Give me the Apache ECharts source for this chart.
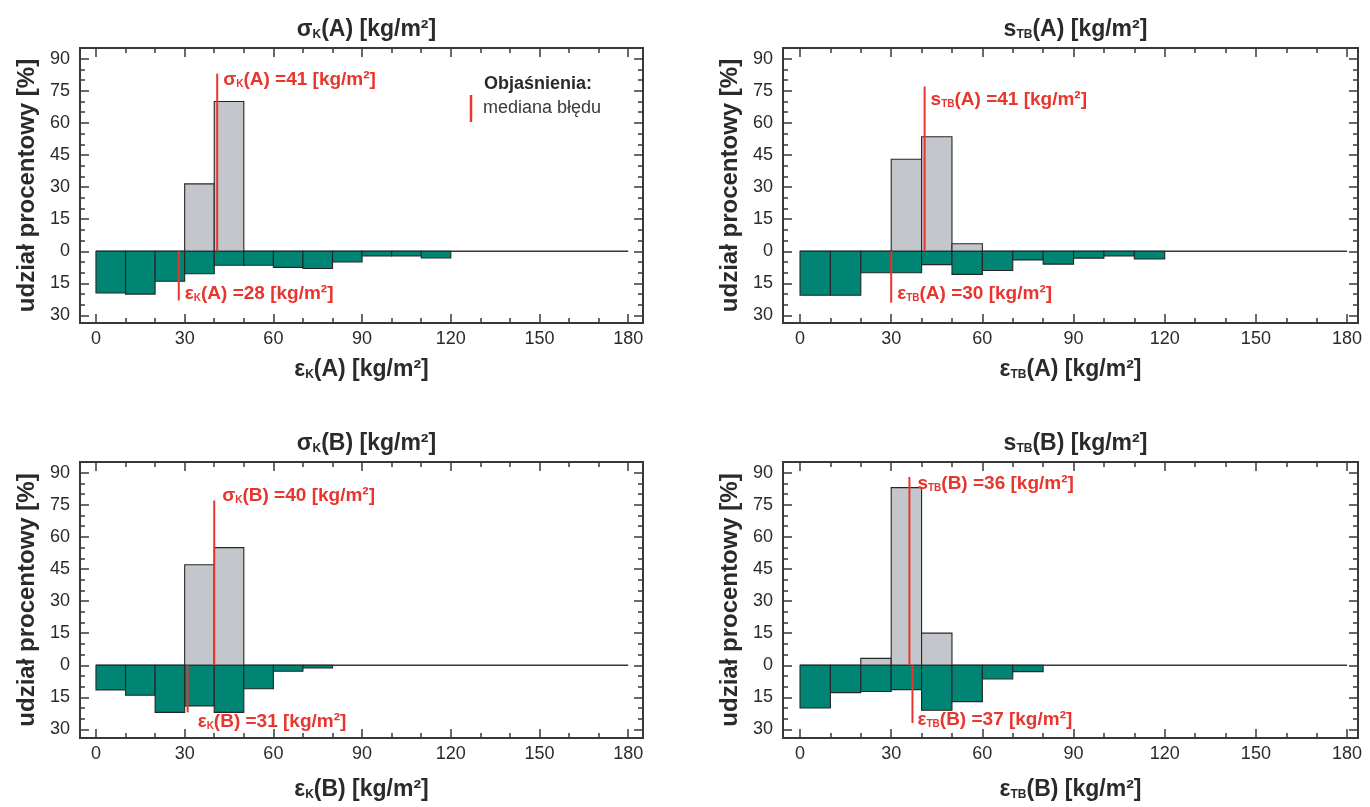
<!DOCTYPE html>
<html>
<head>
<meta charset="utf-8">
<script src="https://cdn.jsdelivr.net/npm/echarts@6/dist/echarts.min.js"></script>
<style>
html,body{margin:0;padding:0;background:#fff;}
#chart{width:1370px;height:807px;}
</style>
</head>
<body>
<div id="chart"></div>
<script>
// ---------------- DATA ----------------
const xTickValues = [0, 30, 60, 90, 120, 150, 180];
const xMinorTicks = [10, 20, 40, 50, 70, 80, 100, 110, 130, 140, 160, 170];
const yTickValues = [-30, -15, 0, 15, 30, 45, 60, 75, 90];
const yMinorTicks = [-25, -20, -10, -5, 5, 10, 20, 25, 35, 40, 50, 55, 65, 70, 80, 85];
const binEdges = [0, 10, 20, 30, 40, 50, 60, 70, 80, 90, 100, 110];
const binWidth = 10;

// upper (grey) histograms: sigma / s distributions [%]
const sigmaK_A = [0, 0, 0, 31.5, 70];
const sTB_A    = [0, 0, 0, 43, 53.5, 3.5];
const sigmaK_B = [0, 0, 0, 47, 55];
const sTB_B    = [0, 0, 3.2, 83, 15];

// lower (teal) histograms: epsilon distributions [%] (drawn downward)
const epsK_A  = [19.5, 20, 14, 10.5, 6.5, 6.5, 7.5, 8, 5, 2.2, 2.2, 3.1];
const epsTB_A = [20.5, 20.5, 10, 10, 6.2, 10.8, 9, 4, 6, 3.2, 2.2, 3.6];
const epsK_B  = [11.5, 14, 22, 19, 22, 11, 2.8, 1.3];
const epsTB_B = [20, 12.8, 12.3, 11.4, 21, 17, 6.4, 3];

// medians of the error [kg/m2]
const medianUpper = [41, 41, 40, 36];
const medianLower = [28, 30, 31, 37];
// extent of the median markers [%]
const medianUpperTop = [83, 77, 77, 88];
const medianLowerBottom = [23, 24, 22, 27];

// symbol texts
const upperSym = [['σ', 'K', 'A'], ['s', 'TB', 'A'], ['σ', 'K', 'B'], ['s', 'TB', 'B']];
const lowerSym = [['ε', 'K', 'A'], ['ε', 'TB', 'A'], ['ε', 'K', 'B'], ['ε', 'TB', 'B']];
const upperData = [sigmaK_A, sTB_A, sigmaK_B, sTB_B];
const lowerData = [epsK_A, epsTB_A, epsK_B, epsTB_B];

// ---------------- LAYOUT ----------------
const FONT = "'Liberation Sans', Arial, Helvetica, sans-serif";
const INK = '#2a2a2a';
const FRAME = '#383838';
const RED = '#e8352d';
const GREY = '#c3c6ca';
const TEAL = '#008474';

const panels = [
  {left: 80,  top: 48,  width: 563, height: 275, xMin: -5.4, xMax: 185,   yMin: -33.5, yMax: 95, xNameGap: 35, upLabelY: 80, upDx: 6, loLabelY: -20, loDx: 6},
  {left: 783, top: 48,  width: 575, height: 275, xMin: -5.6, xMax: 183.6, yMin: -33.5, yMax: 95, xNameGap: 35, upLabelY: 71, upDx: 6, loLabelY: -20, loDx: 6},
  {left: 80,  top: 462, width: 563, height: 276, xMin: -5.4, xMax: 185,   yMin: -34,   yMax: 95, xNameGap: 40, upLabelY: 79, upDx: 8, loLabelY: -26.5, loDx: 10},
  {left: 783, top: 462, width: 575, height: 276, xMin: -5.6, xMax: 183.6, yMin: -34,   yMax: 95, xNameGap: 40, upLabelY: 85, upDx: 8, loLabelY: -25.5, loDx: 5}
];

function richBase(size, subSize, color, weight) {
  return {
    n: {fontSize: size, fontWeight: weight, color: color, fontFamily: FONT},
    s: {fontSize: subSize, fontWeight: weight, color: color, fontFamily: FONT, verticalAlign: 'bottom'}
  };
}
function richZr(size, subSize, color, weight) {
  return {
    n: {fontSize: size, fontWeight: weight, fill: color, fontFamily: FONT},
    s: {fontSize: subSize, fontWeight: weight, fill: color, fontFamily: FONT, verticalAlign: 'bottom'}
  };
}
function symText(sym, tail) {
  return '{n|' + sym[0] + '}{s|' + sym[1] + '}{n|(' + sym[2] + ')' + tail + '}';
}

const tickLine = {color: FRAME, width: 1.5};
const frameLine = {color: FRAME, width: 1.8};

const option = {
  backgroundColor: '#fff',
  animation: false,
  title: [],
  grid: [],
  xAxis: [],
  yAxis: [],
  series: [],
  graphic: [
    {type: 'text', x: 538, y: 84, style: {text: 'Objaśnienia:', fill: '#2a2a2a', font: 'bold 18px ' + FONT, align: 'center', verticalAlign: 'middle'}},
    {type: 'text', x: 483, y: 108, style: {text: 'mediana błędu', fill: '#3a3a3a', font: '18px ' + FONT, align: 'left', verticalAlign: 'middle'}},
    {type: 'line', shape: {x1: 471, y1: 95, x2: 471, y2: 122}, style: {stroke: RED, lineWidth: 2.5}}
  ]
};

panels.forEach(function (p, gi) {
  option.grid.push({left: p.left, top: p.top, width: p.width, height: p.height, containLabel: false});
  option.title.push({
    text: symText(upperSym[gi], ' [kg/m²]'),
    left: p.left + p.width / 2, top: p.top - 35, textAlign: 'center',
    textStyle: {rich: richBase(23, 12, INK, 'bold')}
  });

  const xBase = {gridIndex: gi, type: 'value', min: p.xMin, max: p.xMax, splitLine: {show: false}, axisPointer: {show: false}};
  // bottom major (with labels and name)
  option.xAxis.push(Object.assign({}, xBase, {
    position: 'bottom',
    axisLine: {show: true, onZero: false, lineStyle: frameLine},
    axisTick: {show: true, inside: true, length: 9, customValues: xTickValues, lineStyle: tickLine},
    axisLabel: {show: true, customValues: xTickValues, fontSize: 18, color: INK, fontFamily: FONT, margin: 7},
    name: symText(lowerSym[gi], ' [kg/m²]'), nameLocation: 'middle', nameGap: p.xNameGap,
    nameTextStyle: {rich: richBase(23, 12, INK, 'bold')}
  }));
  // bottom minor
  option.xAxis.push(Object.assign({}, xBase, {
    position: 'bottom', offset: 0,
    axisLine: {show: true, onZero: false, lineStyle: frameLine},
    axisTick: {show: true, inside: true, length: 5, customValues: xMinorTicks, lineStyle: tickLine},
    axisLabel: {show: false}
  }));
  // top major
  option.xAxis.push(Object.assign({}, xBase, {
    position: 'top', offset: 0,
    axisLine: {show: true, onZero: false, lineStyle: frameLine},
    axisTick: {show: true, inside: true, length: 9, customValues: xTickValues, lineStyle: tickLine},
    axisLabel: {show: false}
  }));
  // top minor
  option.xAxis.push(Object.assign({}, xBase, {
    position: 'top', offset: 0,
    axisLine: {show: true, onZero: false, lineStyle: frameLine},
    axisTick: {show: true, inside: true, length: 5, customValues: xMinorTicks, lineStyle: tickLine},
    axisLabel: {show: false}
  }));

  const yBase = {gridIndex: gi, type: 'value', min: p.yMin, max: p.yMax, splitLine: {show: false}, axisPointer: {show: false}};
  option.yAxis.push(Object.assign({}, yBase, {
    position: 'left',
    axisLine: {show: true, onZero: false, lineStyle: frameLine},
    axisTick: {show: true, inside: true, length: 9, customValues: yTickValues, lineStyle: tickLine},
    axisLabel: {show: true, customValues: yTickValues, fontSize: 18, color: INK, fontFamily: FONT, margin: 10,
      formatter: function (v) { return String(Math.abs(v)); }},
    name: 'udział procentowy [%]', nameLocation: 'middle', nameGap: 41,
    nameTextStyle: {fontSize: 24, fontWeight: 'bold', color: INK, fontFamily: FONT}
  }));
  option.yAxis.push(Object.assign({}, yBase, {
    position: 'left', offset: 0,
    axisLine: {show: true, onZero: false, lineStyle: frameLine},
    axisTick: {show: true, inside: true, length: 5, customValues: yMinorTicks, lineStyle: tickLine},
    axisLabel: {show: false}
  }));
  option.yAxis.push(Object.assign({}, yBase, {
    position: 'right', offset: 0,
    axisLine: {show: true, onZero: false, lineStyle: frameLine},
    axisTick: {show: true, inside: true, length: 9, customValues: yTickValues, lineStyle: tickLine},
    axisLabel: {show: false}
  }));
  option.yAxis.push(Object.assign({}, yBase, {
    position: 'right', offset: 0,
    axisLine: {show: true, onZero: false, lineStyle: frameLine},
    axisTick: {show: true, inside: true, length: 5, customValues: yMinorTicks, lineStyle: tickLine},
    axisLabel: {show: false}
  }));

  const xi = gi * 4, yi = gi * 4;

  // zero line
  option.series.push({
    type: 'line', xAxisIndex: xi, yAxisIndex: yi, silent: true, symbol: 'none', z: 1,
    data: [[xTickValues[0], 0], [xTickValues[xTickValues.length - 1], 0]],
    lineStyle: {color: FRAME, width: 1.6}
  });

  function histRender(fill) {
    return function (params, api) {
      const x0 = api.value(0), v = api.value(1);
      const a = api.coord([x0, 0]);
      const b = api.coord([x0 + binWidth, v]);
      return {
        type: 'rect',
        shape: {x: a[0], y: Math.min(a[1], b[1]), width: b[0] - a[0], height: Math.abs(b[1] - a[1])},
        style: {fill: fill, stroke: '#262626', lineWidth: 1.1}
      };
    };
  }
  // grey (upper) histogram
  option.series.push({
    type: 'custom', xAxisIndex: xi, yAxisIndex: yi, z: 2,
    renderItem: histRender(GREY),
    data: upperData[gi].map(function (v, i) { return [binEdges[i], v]; }).filter(function (d) { return d[1] > 0; })
  });
  // teal (lower) histogram
  option.series.push({
    type: 'custom', xAxisIndex: xi, yAxisIndex: yi, z: 3,
    renderItem: histRender(TEAL),
    data: lowerData[gi].map(function (v, i) { return [binEdges[i], -v]; })
  });

  // median markers with labels
  const labels = [
    {text: symText(upperSym[gi], ' =' + medianUpper[gi] + ' [kg/m²]'), y: p.upLabelY, dx: p.upDx},
    {text: symText(lowerSym[gi], ' =' + medianLower[gi] + ' [kg/m²]'), y: p.loLabelY, dx: p.loDx}
  ];
  option.series.push({
    type: 'custom', xAxisIndex: xi, yAxisIndex: yi, z: 5,
    data: [[medianUpper[gi], medianUpperTop[gi]], [medianLower[gi], -medianLowerBottom[gi]]],
    renderItem: function (params, api) {
      const x = api.value(0), yEnd = api.value(1);
      const a = api.coord([x, 0]);
      const b = api.coord([x, yEnd]);
      const lab = labels[params.dataIndex];
      const t = api.coord([x, lab.y]);
      return {
        type: 'group',
        children: [
          {type: 'line', shape: {x1: a[0], y1: a[1], x2: b[0], y2: b[1]}, style: {stroke: RED, lineWidth: 2}},
          {type: 'text', x: t[0] + lab.dx, y: t[1],
            style: {text: lab.text, rich: richZr(19, 10, RED, 'bold'), align: 'left', verticalAlign: 'middle', fill: RED}}
        ]
      };
    }
  });
});

const chart = echarts.init(document.getElementById('chart'), null, {renderer: 'canvas'});
chart.setOption(option);
</script>
</body>
</html>
